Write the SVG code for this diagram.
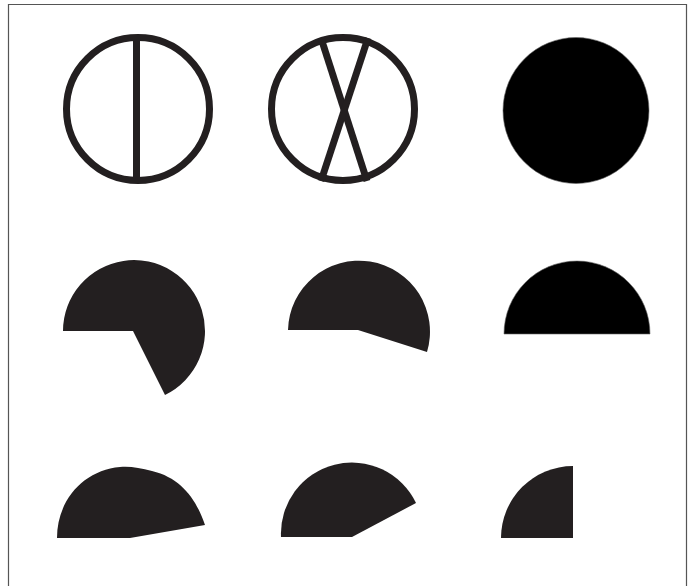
<svg xmlns="http://www.w3.org/2000/svg" width="694" height="586" viewBox="0 0 694 586">
  <style>
    .ring { fill: none; stroke: #231f20; stroke-width: 7; }
    .bar { stroke: #231f20; stroke-width: 7; stroke-linecap: butt; }
    .dark { fill: #231f20; }
    .black { fill: #000; stroke: #666; stroke-width: 0.6; }
  </style>
  <rect width="694" height="586" fill="#fff"/>
  <path d="M8.5,590 L8.5,4.5 L686.5,4.5 L686.5,590" fill="none" stroke="#555" stroke-width="1.2"/>

  <g id="circle-split">
    <circle class="ring" cx="138" cy="109" r="71.5"/>
    <line class="bar" x1="136.5" y1="37" x2="136.5" y2="181"/>
  </g>
  <g id="circle-cross">
    <circle class="ring" cx="343" cy="109" r="71.5"/>
    <line class="bar" x1="321" y1="38" x2="367" y2="181"/>
    <line class="bar" x1="368" y1="38" x2="321" y2="181"/>
  </g>
  <g id="circle-full">
    <circle class="black" cx="576" cy="110.5" r="73"/>
  </g>

  <g id="pie-large">
    <path class="dark" d="M133,331 L63,331 A71,71 0 1 1 165,395 Z"/>
  </g>
  <g id="pie-medium">
    <path class="dark" d="M358,330 L288,330 A71,71 0 1 1 427,352 Z"/>
  </g>
  <g id="half-disc">
    <path class="black" d="M504,334 A73,73 0 0 1 650,334 Z"/>
  </g>

  <g id="segment-irregular">
    <path class="dark" d="M57,538 L130,538 L205,525 C197,501 182,478 152,471 C140,468 130,466 120,467 C84,470 57,500 57,538 Z"/>
  </g>
  <g id="sector-wide">
    <path class="dark" d="M281,537 A71,71 0 0 1 416,503 L352,537 Z"/>
  </g>
  <g id="quarter">
    <path class="dark" d="M501,538 A72,72 0 0 1 573,466 L573,538 Z"/>
  </g>
</svg>
